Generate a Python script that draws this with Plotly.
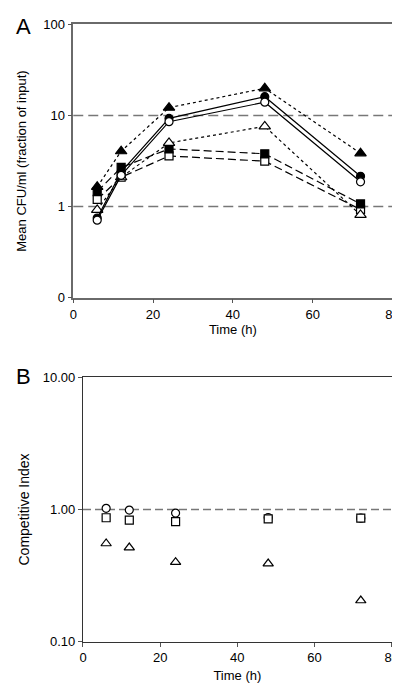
import plotly.graph_objects as go

time = [6, 12, 24, 48, 72]

# Panel A: mean CFU/ml (fraction of input)
a_filled_tri = [1.65, 4.05, 12.2, 19.9, 3.85]
a_filled_circ = [0.75, 2.4, 9.3, 16.1, 2.15]
a_open_circ = [0.71, 2.2, 8.55, 14.0, 1.87]
a_open_tri = [0.92, 2.1, 5.0, 7.6, 0.81]
a_filled_sq = [1.46, 2.69, 4.3, 3.8, 1.07]
a_open_sq = [1.2, 2.1, 3.6, 3.15, 0.93]

# Panel B: competitive index
b_circ = [1.02, 0.99, 0.94, 0.87, 0.86]
b_sq = [0.866, 0.83, 0.81, 0.85, 0.86]
b_tri = [0.553, 0.515, 0.40, 0.39, 0.205]

a_yticks = [0.1, 1, 10, 100]
a_yticktext = ["0", "1", "10", "100"]
b_yticks = [0.1, 1, 10]
b_yticktext = ["0.10", "1.00", "10.00"]
xticks = [0, 20, 40, 60, 80]

FONT = "Liberation Sans, Arial, sans-serif"
fig = go.Figure()

def add_a(y, symbol, dash, filled, size=8):
    fig.add_trace(go.Scatter(
        x=time, y=y, mode="lines+markers", xaxis="x", yaxis="y",
        line=dict(color="black", width=1.2, dash=dash),
        marker=dict(symbol=symbol, size=size,
                    color="black" if filled else "white",
                    line=dict(color="black", width=1.2)),
        showlegend=False, cliponaxis=False))

add_a(a_open_sq, "square", "8px,4px", False)
add_a(a_filled_sq, "square", "8px,4px", True)
add_a(a_open_tri, "triangle-up", "3px,3px", False, 10)
add_a(a_filled_tri, "triangle-up", "3px,3px", True, 10)
add_a(a_filled_circ, "circle", "solid", True)
add_a(a_open_circ, "circle", "solid", False)

def add_b(y, symbol, size=8):
    fig.add_trace(go.Scatter(
        x=time, y=y, mode="markers", xaxis="x2", yaxis="y2",
        marker=dict(symbol=symbol, size=size, color="white",
                    line=dict(color="black", width=1.2)),
        showlegend=False, cliponaxis=False))

add_b(b_circ, "circle")
add_b(b_sq, "square")
add_b(b_tri, "triangle-up", 9)

# reference lines
for yv in [1, 10]:
    fig.add_shape(type="line", xref="x domain", yref="y", x0=0, x1=1, y0=yv, y1=yv,
                  line=dict(color="#777777", width=1.5, dash="10px,5px"), layer="below")
fig.add_shape(type="line", xref="x2 domain", yref="y2", x0=0, x1=1, y0=1, y1=1,
              line=dict(color="#777777", width=1.5, dash="8px,4px"), layer="below")

axis_common = dict(showgrid=False, zeroline=False, showline=True, mirror=True,
                   ticks="outside", ticklen=4, tickcolor="#555555",
                   tickfont=dict(family=FONT, size=13, color="black"))

fig.update_layout(
    width=400, height=689,
    margin=dict(l=0, r=0, t=0, b=0),
    plot_bgcolor="white", paper_bgcolor="white",
    font=dict(family=FONT, color="black"),
    xaxis=dict(domain=[0.1575, 0.978], range=[0, 80], tickvals=xticks,
               linecolor="#6a6a6a", linewidth=1.5, anchor="y",
               title=dict(text="Time (h)", font=dict(size=13), standoff=4), **axis_common),
    yaxis=dict(domain=[0.5806, 0.986], type="log", range=[-1, 2],
               tickvals=a_yticks, ticktext=a_yticktext,
               linecolor="#6a6a6a", linewidth=1.5, anchor="x",
               title=dict(text="Mean CFU/ml (fraction of input)", font=dict(size=13), standoff=14),
               **axis_common),
    xaxis2=dict(domain=[0.1825, 0.976], range=[0, 80], tickvals=xticks,
                linecolor="#333333", linewidth=1.2, anchor="y2",
                title=dict(text="Time (h)", font=dict(size=13), standoff=6), **axis_common),
    yaxis2=dict(domain=[0.0701, 0.4626], type="log", range=[-1, 1],
                tickvals=b_yticks, ticktext=b_yticktext,
                linecolor="#333333", linewidth=1.2, anchor="x2",
                title=dict(text="Competitive Index", font=dict(size=14), standoff=9),
                **axis_common),
    annotations=[
        dict(text="A", x=12/400, y=1-12/689, xref="paper", yref="paper",
             showarrow=False, font=dict(size=22, family=FONT), xanchor="center", yanchor="middle"),
        dict(text="B", x=12/400, y=1-370/689, xref="paper", yref="paper",
             showarrow=False, font=dict(size=22, family=FONT), xanchor="center", yanchor="middle"),
    ],
)

fig.write_html("out.html")
